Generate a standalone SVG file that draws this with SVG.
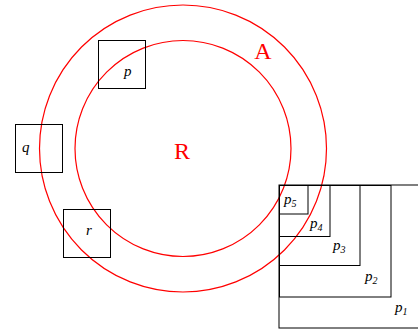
<svg xmlns="http://www.w3.org/2000/svg" width="418" height="335" viewBox="0 0 418 335">
<style>
.c{fill:none;stroke:#ff0000;stroke-width:1.2}
.bx{fill:none;stroke:#000;stroke-width:1}
.lb{font-family:"Liberation Serif",serif;font-style:italic;font-size:15px;fill:#000}
.sub{font-size:10px}
.big{font-family:"Liberation Serif",serif;font-size:24px;fill:#ff0000;text-anchor:middle}
</style>
<rect width="418" height="335" fill="#fff"/>
<g id="A">
<circle class="c" cx="183" cy="148.5" r="143.5"/>
<text class="big" x="263" y="59">A</text>
</g>
<g id="R">
<circle class="c" cx="183" cy="148.5" r="108"/>
<text class="big" x="182" y="159">R</text>
</g>
<g id="p">
<rect class="bx" x="98.5" y="40.5" width="47" height="48"/>
<text class="lb" x="124" y="76">p</text>
</g>
<g id="q">
<rect class="bx" x="15.5" y="124.5" width="47" height="48"/>
<text class="lb" x="22" y="152">q</text>
</g>
<g id="r">
<rect class="bx" x="63.5" y="209.5" width="47" height="48"/>
<text class="lb" x="86" y="235">r</text>
</g>
<g id="p1">
<rect class="bx" x="279" y="185" width="145" height="143"/>
<text class="lb" x="395" y="312">p<tspan class="sub" dy="3">1</tspan></text>
</g>
<g id="p2">
<rect class="bx" x="279.5" y="185.5" width="111.5" height="111.5"/>
<text class="lb" x="365" y="281">p<tspan class="sub" dy="3">2</tspan></text>
</g>
<g id="p3">
<rect class="bx" x="279.5" y="185.5" width="80.5" height="80"/>
<text class="lb" x="333" y="250">p<tspan class="sub" dy="3">3</tspan></text>
</g>
<g id="p4">
<rect class="bx" x="279.5" y="185.5" width="50.5" height="51"/>
<text class="lb" x="310" y="228">p<tspan class="sub" dy="3">4</tspan></text>
</g>
<g id="p5">
<rect class="bx" x="279.5" y="185.5" width="28.5" height="28.5"/>
<text class="lb" x="284" y="204">p<tspan class="sub" dy="3">5</tspan></text>
</g>
<g id="connectors"/>
</svg>
